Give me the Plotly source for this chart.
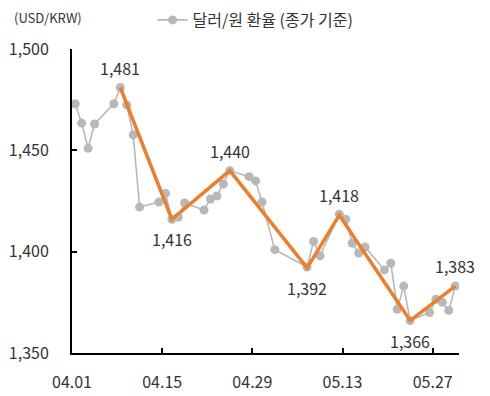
import plotly.graph_objects as go

# Daily closing USD/KRW (2025)
dates = ["2025-04-01", "2025-04-02", "2025-04-03", "2025-04-04", "2025-04-07",
         "2025-04-08", "2025-04-09", "2025-04-10", "2025-04-11", "2025-04-14",
         "2025-04-15", "2025-04-16", "2025-04-17", "2025-04-18", "2025-04-21",
         "2025-04-22", "2025-04-23", "2025-04-24", "2025-04-25", "2025-04-28",
         "2025-04-29", "2025-04-30", "2025-05-02", "2025-05-07", "2025-05-08",
         "2025-05-09", "2025-05-12", "2025-05-13", "2025-05-14", "2025-05-15",
         "2025-05-16", "2025-05-19", "2025-05-20", "2025-05-21", "2025-05-22",
         "2025-05-23", "2025-05-26", "2025-05-27", "2025-05-28", "2025-05-29",
         "2025-05-30"]
rates = [1473, 1463.4, 1451, 1463, 1473,
         1481, 1472.4, 1457.6, 1422, 1424.5,
         1428.7, 1416, 1417, 1424, 1420.5,
         1426, 1427.5, 1433.4, 1440, 1437,
         1434.9, 1424.5, 1401, 1392.4, 1405,
         1398, 1418.5, 1416, 1404.2, 1399.3,
         1402.3, 1391, 1394.3, 1371.6, 1383,
         1366, 1370, 1376.5, 1375, 1371,
         1383]

# Peak / trough trend points
trend_dates = ["2025-04-08", "2025-04-16", "2025-04-25", "2025-05-07",
               "2025-05-12", "2025-05-23", "2025-05-30"]
trend_values = [1481, 1416, 1440, 1392, 1418, 1366, 1383]
trend_labels = ["1,481", "1,416", "1,440", "1,392", "1,418", "1,366", "1,383"]
label_side = [1, -1, 1, -1, 1, -1, 1]

tick_dates = ["2025-04-01", "2025-04-15", "2025-04-29", "2025-05-13", "2025-05-27"]
tick_text = ["04.01", "04.15", "04.29", "05.13", "05.27"]
y_ticks = [1350, 1400, 1450, 1500]

FONT = "Noto Sans CJK KR"
TXT = "#333333"

def noon(d):
    return d + " 12:00"

fig = go.Figure()
fig.add_trace(go.Scatter(
    x=[noon(d) for d in dates], y=rates, mode="lines+markers",
    name="달러/원 환율 (종가 기준)",
    line=dict(color="#b8b8b8", width=1.6),
    marker=dict(color="#b8b8b8", size=9),
))
fig.add_trace(go.Scatter(
    x=[noon(d) for d in trend_dates], y=trend_values, mode="lines",
    line=dict(color="#e8802f", width=3.5), showlegend=False,
))

for d, v, t, s in zip(trend_dates, trend_values, trend_labels, label_side):
    fig.add_annotation(x=noon(d), y=v, text=t, showarrow=False,
                       yshift=20 * s, font=dict(family=FONT, size=16, color=TXT))

fig.add_annotation(xref="paper", yref="paper", x=-0.155, y=1.102,
                   xanchor="left", yanchor="middle", text="(USD/KRW)",
                   showarrow=False, font=dict(family=FONT, size=13, color=TXT))

# page body adds an 8px margin, so the figure is offset to line up with the window
fig.update_layout(
    width=474, height=388,
    margin=dict(l=64, r=23, t=41, b=43, autoexpand=False),
    paper_bgcolor="white", plot_bgcolor="white",
    font=dict(family=FONT, size=16, color=TXT),
    legend=dict(orientation="h", xref="container", yref="container",
                x=0.305, y=1 - 12 / 388, xanchor="left", yanchor="middle",
                font=dict(family=FONT, size=16, color=TXT), bgcolor="rgba(0,0,0,0)"),
    showlegend=True,
)
fig.update_xaxes(
    type="date", range=["2025-04-01", "2025-05-31 02:00"],
    tickvals=tick_dates, ticktext=tick_text,
    showgrid=False, zeroline=False, automargin=False,
    showline=True, linecolor="black", linewidth=2,
    ticks="inside", ticklen=5, tickwidth=1.5, tickcolor="black",
    tickfont=dict(family=FONT, size=16, color=TXT),
    ticklabelstandoff=14,
)
fig.update_yaxes(
    range=[1350, 1500], tickvals=y_ticks,
    ticktext=[f"{v:,}" for v in y_ticks],
    showgrid=False, zeroline=False, automargin=False,
    showline=True, linecolor="black", linewidth=2,
    ticks="inside", ticklen=5, tickwidth=1.5, tickcolor="black",
    tickfont=dict(family=FONT, size=16, color=TXT),
    ticklabelstandoff=18,
)

fig.write_html("out.html")
